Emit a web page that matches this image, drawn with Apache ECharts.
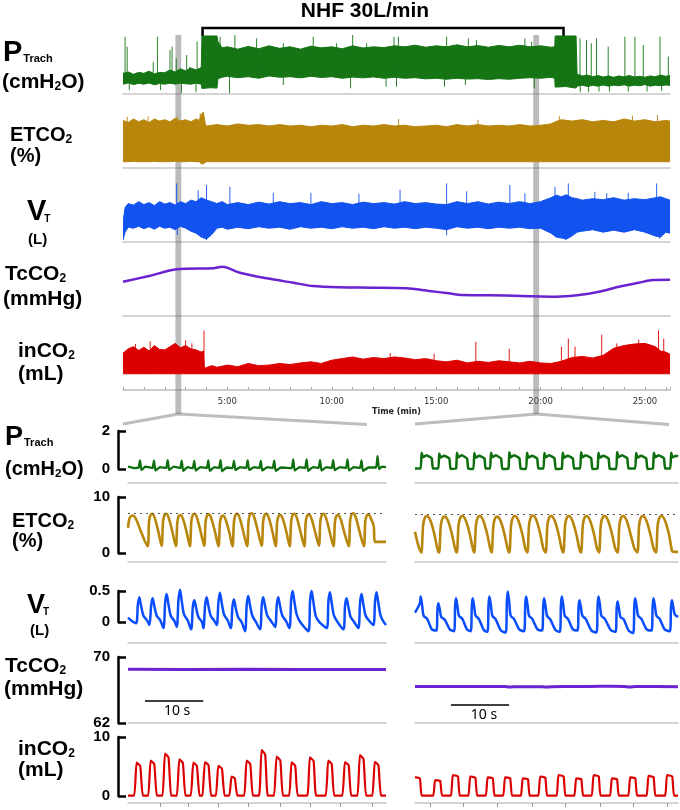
<!DOCTYPE html>
<html><head><meta charset="utf-8">
<script src="https://cdn.jsdelivr.net/npm/echarts@6/dist/echarts.min.js"></script>
<style>html,body{margin:0;padding:0;background:#fff}#c{width:680px;height:810px}</style>
</head><body><div id="c"></div>
<script>
// ---------------- DATA ----------------
// Overview (top) panels, time in minutes. Envelopes: [t, low, high]
const timeLabels = [5, 10, 15, 20, 25];
const TOP_MAX = 26.2;
const bands = [[2.51, 2.79], [19.65, 19.93]];   // zoomed windows (min)
const nhf = [3.81, 21.1];                        // NHF 30 L/min period (min)

const ptEnv = [[0,0.0,0.55],[0.25,0.06,0.62],[0.5,-0.02,0.5],[0.75,0.04,0.6],[1,0.0,0.55],[1.25,0.06,0.66],[1.5,-0.03,0.52],[1.75,0.03,0.6],[2,0.0,0.58],[2.25,0.05,0.72],[2.5,0.0,0.62],[2.75,0.05,0.78],[3,0.02,0.68],[3.25,0.0,0.82],[3.5,0.05,0.72],[3.75,0.0,0.85],
[3.78,-0.22,2.45],[4.2,-0.18,2.45],[4.5,-0.2,2.45],[4.55,0.28,2.15],[4.75,0.35,1.85],
[5,0.4,1.9],[5.5,0.33,1.78],[6,0.38,1.92],[6.5,0.3,1.8],[7,0.42,1.95],[7.5,0.35,1.82],[8,0.38,1.9],[8.5,0.32,1.78],[9,0.4,1.93],[9.5,0.34,1.85],[10,0.38,1.9],[10.5,0.3,1.8],[11,0.36,1.95],[11.5,0.32,1.84],[12,0.37,1.9],[12.5,0.3,1.86],[13,0.35,1.95],[13.5,0.3,1.9],[14,0.33,1.98],[14.5,0.27,1.88],[15,0.3,1.95],[15.5,0.25,1.9],[16,0.3,2.0],[16.5,0.26,1.9],[17,0.28,1.96],[17.5,0.24,1.88],[18,0.28,1.97],[18.5,0.25,1.9],[19,0.3,1.98],[19.5,0.33,1.9],[20,0.3,1.95],[20.5,0.35,1.88],[20.68,0.3,1.9],
[20.7,-0.15,2.45],[21.2,-0.12,2.45],[21.7,-0.2,2.45],[21.75,-0.1,0.5],[22,-0.05,0.42],[22.25,-0.12,0.46],[22.5,-0.06,0.38],[22.75,-0.1,0.44],[23,-0.04,0.36],[23.25,-0.1,0.42],[23.5,-0.05,0.35],[23.75,-0.08,0.42],[24,-0.03,0.37],[24.25,-0.1,0.44],[24.5,-0.05,0.36],[24.75,-0.08,0.4],[25,-0.02,0.35],[25.25,-0.1,0.42],[25.5,-0.05,0.38],[25.75,-0.08,0.46],[26,-0.04,0.4],[26.2,-0.06,0.44]];
const ptSpikes = [[0.1,0.3,2.41],[0.2,0.3,1.9],[1.45,0.3,1.14],[1.65,0.3,2.41],[2.25,0.3,1.74],[2.35,0.3,1.91],[2.55,0.3,1.31],[3.05,0.3,1.48],[3.2,0.3,0.89],[3.55,0.3,2.16],
[0.3,-0.3,0.3],[1.8,-0.3,0.3],[2.8,-0.45,0.3],[3.5,-0.4,0.3],
[4.65,1,2.41],[5.36,1,2.5],[6.4,1,2.33],[7.68,1,2.08],[9.11,1,2.41],[10.23,1,2.08],[11.0,1,2.5],[11.67,1,2.08],[12.98,1,2.41],[13.19,1,2.41],[15.5,1,2.41],[16.54,1,2.33],[16.93,1,2.24],[19.25,1,2.33],[19.57,1,2.16],
[5.1,-0.45,1],[7.68,-0.04,1],[10.9,-0.21,1],[12.6,-0.13,1],[13.1,-0.13,1],[15.4,-0.13,1],[16.4,-0.04,1],[19.7,-0.21,1],
[21.89,0.2,2.33],[22.2,0.2,2.24],[22.43,0.2,2.08],[22.68,0.2,2.33],[23.24,0.2,1.91],[24.04,0.2,2.41],[24.52,0.2,2.41],[24.92,0.2,1.99],[25.72,0.2,2.41],[26.12,0.2,1.4],
[21.9,-0.4,0.2],[22.3,-0.4,0.2],[22.8,-0.38,0.2],[23.3,-0.38,0.2],[24.2,-0.38,0.2],[25.1,-0.38,0.2],[25.8,-0.35,0.2]];

const etEnv = [[0,0.9,6.8],[0.25,0.9,6.5],[0.5,0.95,7.0],[0.75,0.9,6.6],[1,0.9,6.9],[1.25,0.9,6.5],[1.5,0.95,7.0],[1.75,0.9,6.7],[2,0.9,6.9],[2.25,0.9,6.6],[2.5,0.95,7.1],[2.75,0.9,6.7],[3,0.9,6.9],[3.25,0.95,6.6],[3.5,0.9,7.0],[3.65,0.9,6.8],[3.75,0.6,7.6],[3.85,0.6,8.0],[3.95,0.8,6.2],
[4,0.9,6.0],[4.5,0.9,6.2],[5,0.9,6.0],[5.5,0.9,6.3],[6,0.9,6.1],[6.5,0.9,6.2],[7,0.9,6.0],[7.5,0.9,6.2],[8,0.9,6.0],[8.5,0.9,6.1],[9,0.9,5.9],[9.5,0.9,6.1],[10,0.9,6.0],[10.5,0.9,6.2],[11,0.9,5.9],[11.5,0.9,6.1],[12,0.9,6.0],[12.5,0.9,6.2],[13,0.9,6.0],[13.5,0.9,6.1],[14,0.9,5.9],[14.5,0.9,6.0],[15,0.9,6.1],[15.5,0.9,5.9],[16,0.9,6.2],[16.5,0.9,6.0],[17,0.9,6.2],[17.5,0.9,6.0],[18,0.9,6.1],[18.5,0.9,6.0],[19,0.9,6.2],[19.5,0.9,6.0],[20,0.9,6.1],[20.5,0.9,6.3],
[20.7,0.9,6.6],[21,0.9,6.9],[21.5,0.9,6.7],[22,0.9,6.9],[22.5,0.9,6.6],[23,0.9,6.8],[23.5,0.9,6.6],[24,0.9,7.0],[24.5,0.9,6.7],[25,0.9,6.9],[25.5,0.9,6.6],[26,0.9,6.8],[26.2,0.9,6.7]];
const etSpikes = [[0.2,3,7.3],[1.2,3,7.4],[2.6,3,7.4],[3.7,3,7.8],[13.2,3,7.0],[17.0,3,6.9],[20.9,3,7.4],[24.4,3,7.5],[25.6,3,7.6]];

const vtEnv = [[0,-0.36,0.0],[0.1,-0.2,0.3],[0.25,-0.1,0.38],[0.5,-0.12,0.35],[0.75,-0.08,0.42],[1,-0.13,0.36],[1.25,-0.09,0.4],[1.5,-0.14,0.34],[1.75,-0.08,0.42],[2,-0.12,0.37],[2.25,-0.1,0.4],[2.5,-0.15,0.35],[2.75,-0.08,0.42],[3,-0.12,0.38],[3.25,-0.18,0.45],[3.5,-0.22,0.42],[3.75,-0.3,0.5],[4,-0.34,0.45],[4.25,-0.25,0.42],[4.5,-0.12,0.38],[4.75,-0.1,0.42],[5,-0.14,0.36],
[5.5,-0.1,0.4],[6,-0.13,0.36],[6.5,-0.09,0.41],[7,-0.12,0.37],[7.5,-0.1,0.42],[8,-0.14,0.38],[8.5,-0.09,0.4],[9,-0.12,0.36],[9.5,-0.1,0.42],[10,-0.13,0.38],[10.5,-0.09,0.4],[11,-0.12,0.36],[11.5,-0.1,0.41],[12,-0.13,0.38],[12.5,-0.09,0.4],[13,-0.12,0.37],[13.5,-0.1,0.42],[14,-0.13,0.38],[14.5,-0.1,0.4],[15,-0.12,0.37],[15.5,-0.15,0.36],[16,-0.09,0.42],[16.5,-0.12,0.38],[17,-0.1,0.42],[17.5,-0.13,0.37],[18,-0.1,0.41],[18.5,-0.12,0.38],[19,-0.1,0.42],[19.5,-0.13,0.38],[20,-0.12,0.42],
[20.5,-0.22,0.5],[20.75,-0.3,0.55],[21,-0.32,0.52],[21.25,-0.34,0.56],[21.5,-0.28,0.5],[21.75,-0.2,0.48],[22,-0.18,0.45],[22.5,-0.15,0.48],[23,-0.2,0.46],[23.5,-0.16,0.5],[24,-0.2,0.45],[24.5,-0.15,0.48],[25,-0.2,0.46],[25.5,-0.28,0.5],[25.75,-0.3,0.52],[26,-0.2,0.48],[26.2,-0.22,0.45]];
const vtSpikes = [[2.57,0,0.79],[2.6,-0.26,0],[4.0,0,0.76],[4.0,-0.36,0],[5.12,0,0.72],[3.6,0,0.65],[7.2,0,0.6],[9.0,0,0.6],[11.3,0,0.58],[13.27,0,0.66],[15.5,0,0.79],[15.5,-0.26,0],[16.46,0,0.63],[18.53,0,0.76],[19.25,0,0.59],[20.69,0,0.72],[21.33,0,0.79],[21.2,-0.36,0],[22.6,0,0.62],[23.17,0,0.59],[24.2,0,0.6],[25.56,0,0.79],[25.7,-0.33,0]];

const tcTop = [[0,67.6],[1.3,68.12],[2.57,68.66],[4.33,68.75],[4.76,68.88],[5.6,68.37],[6.88,67.9],[8.16,67.52],[9.1,67.24],[10.39,67.13],[11.9,67.1],[13.56,67.05],[14.67,66.82],[15.6,66.63],[16.25,66.48],[17.5,66.46],[19.1,66.4],[20.75,66.34],[21.85,66.48],[22.8,66.76],[23.76,67.18],[24.7,67.52],[25.4,67.75],[26.2,67.77]];

const inEnv = [[0,0,3.8],[0.25,0,4.6],[0.5,0,5.0],[0.75,0,4.3],[1,0,4.9],[1.25,0,4.2],[1.5,0,5.2],[1.75,0,4.5],[2,0,4.4],[2.25,0,5.0],[2.5,0,5.6],[2.75,0,4.8],[3,0,5.2],[3.25,0,4.6],[3.5,0,4.4],[3.75,0,4.0],[3.85,0,4.2],[3.9,0,1.0],[4.25,0,1.5],[4.5,0,1.2],[5,0,1.6],[5.5,0,1.3],[6,0,1.9],[6.5,0,1.5],[7,0,1.6],[7.5,0,1.9],[8,0,1.7],[8.5,0,2.0],[9,0,2.2],[9.5,0,1.9],[10,0,2.5],[10.5,0,2.8],[11,0,3.1],[11.5,0,2.7],[12,0,3.0],[12.5,0,2.8],[13,0,3.1],[13.5,0,2.9],[14,0,2.6],[14.5,0,2.8],[15,0,2.4],[15.5,0,2.2],[16,0,2.5],[16.5,0,2.0],[17,0,2.3],[17.5,0,2.1],[18,0,2.4],[18.5,0,2.2],[19,0,2.0],[19.5,0,2.3],[20,0,2.0],[20.5,0,1.9],[21,0,2.3],[21.5,0,3.0],[22,0,3.2],[22.5,0,2.9],[23,0,3.4],[23.5,0,4.7],[24,0,5.2],[24.5,0,5.5],[25,0,5.6],[25.5,0,5.0],[25.75,0,4.2],[26,0,4.0],[26.2,0,3.6]];
const inSpikes = [[0.6,0,5.5],[1.3,0,6.0],[3.0,0,6.2],[3.3,0,5.6],[3.88,0,8.0],[12.8,0,3.8],[14.9,0,3.7],[16.9,0,5.9],[18.5,0,4.6],[21.0,0,5.0],[21.33,0,6.5],[21.65,0,5.0],[22.93,0,7.2],[23.65,0,5.6],[24.7,0,6.3],[25.65,0,8.0],[25.9,0,6.5]];

// Zoomed (bottom) panels, time in seconds: [t, value]
const ptL = [[0,0.12],[1.0,0.05],[1.8,0.08],[2.05,0.45],[2.3,-0.05],[3.0,0.12],[4.2,0.05],[4.45,0.44],[4.7,-0.08],[5.5,0.1],[6.55,0.05],[6.8,0.46],[7.05,-0.06],[7.8,0.12],[8.95,0.05],[9.2,0.44],[9.45,-0.1],[10.2,0.1],[11.1,0.04],[11.35,0.42],[11.6,-0.08],[12.4,0.1],[13.5,0.05],[13.75,0.45],[14.0,-0.1],[14.8,0.1],[15.6,0.05],[15.85,0.47],[16.1,-0.12],[16.9,0.08],[17.9,0.05],[18.15,0.42],[18.4,-0.05],[19.2,0.1],[20.25,0.05],[20.5,0.45],[20.75,-0.05],[21.6,0.1],[22.5,0.05],[22.75,0.42],[23.0,-0.08],[23.9,0.1],[24.8,0.05],[25.05,0.44],[25.3,-0.1],[26.2,0.08],[28.05,0.05],[28.3,0.5],[28.55,-0.08],[29.4,0.1],[30.35,0.05],[30.6,0.5],[30.85,-0.1],[31.7,0.1],[32.65,0.05],[32.9,0.46],[33.15,-0.08],[34.0,0.1],[34.9,0.05],[35.15,0.46],[35.4,-0.06],[36.3,0.1],[37.35,0.05],[37.6,0.5],[37.85,-0.08],[38.7,0.1],[39.75,0.05],[40.0,0.45],[40.25,-0.1],[41.2,0.08],[42.5,0.08],[42.75,0.68],[43.0,0.0],[43.5,0.12],[44.2,0.1]];
const ptR = [[0,0.02],[0.98,0.02],[1.13,0.85],[1.38,0.62],[1.98,0.72],[2.88,0.56],[3.08,0.02],[4.02,0.02],[4.17,0.82],[4.42,0.6],[5.02,0.7],[5.92,0.55],[6.12,0.0],[7.07,0.02],[7.22,0.85],[7.47,0.62],[8.07,0.72],[8.97,0.55],[9.17,0.02],[10.06,0.0],[10.21,0.84],[10.46,0.6],[11.06,0.7],[11.96,0.56],[12.16,0.02],[12.93,0.02],[13.08,0.86],[13.33,0.63],[13.93,0.72],[14.83,0.55],[15.03,0.0],[16.09,0.02],[16.24,0.88],[16.49,0.62],[17.09,0.72],[17.99,0.56],[18.19,0.02],[19.14,0.0],[19.29,0.85],[19.54,0.6],[20.14,0.7],[21.04,0.55],[21.24,0.02],[22.13,0.02],[22.28,0.84],[22.53,0.62],[23.13,0.72],[24.03,0.56],[24.23,0.0],[25.29,0.02],[25.44,0.86],[25.69,0.6],[26.29,0.7],[27.19,0.55],[27.39,0.02],[28.45,0.02],[28.6,0.88],[28.85,0.62],[29.45,0.72],[30.35,0.56],[30.55,0.0],[31.44,0.02],[31.59,0.85],[31.84,0.6],[32.44,0.7],[33.34,0.55],[33.54,0.02],[34.66,0.0],[34.81,0.9],[35.06,0.62],[35.66,0.72],[36.56,0.56],[36.76,0.02],[37.93,0.02],[38.08,0.84],[38.33,0.6],[38.93,0.7],[39.83,0.55],[40.03,0.0],[40.98,0.02],[41.13,0.86],[41.38,0.62],[41.98,0.72],[42.88,0.56],[43.08,0.02],[43.97,0.02],[44.12,0.85],[44.37,0.62],[45.0,0.7],[45.3,0.66]];

const etL = [[0,4.5],[0.3,6.3],[0.8,6.7],[1.4,6.0],[2.3,3.6],[3.35,1.2],
[3.6,5.6],[3.85,6.8],[4.15,7.0],[4.6,6.2],[5.2,3.8],[5.75,1.3],
[6.0,5.6],[6.25,6.8],[6.55,7.0],[7.0,6.2],[7.6,3.8],[8.2,1.2],
[8.45,5.5],[8.7,6.6],[9.0,6.8],[9.45,6.0],[10.05,3.7],[10.6,1.2],
[10.85,5.6],[11.1,6.8],[11.4,7.0],[11.85,6.2],[12.45,3.8],[13.05,1.3],
[13.3,5.6],[13.55,6.7],[13.85,6.9],[14.3,6.1],[14.9,3.8],[15.5,1.2],
[15.75,5.4],[16.0,6.5],[16.3,6.7],[16.75,5.9],[17.35,3.7],[17.9,1.2],
[18.15,5.6],[18.4,6.8],[18.7,7.0],[19.15,6.2],[19.75,3.8],[20.4,1.2],
[20.65,5.7],[20.9,6.9],[21.2,7.1],[21.65,6.3],[22.25,3.9],[22.9,1.3],
[23.15,5.6],[23.4,6.8],[23.7,7.0],[24.15,6.2],[24.75,3.8],[25.3,1.2],
[25.55,5.5],[25.8,6.6],[26.1,6.8],[26.55,6.0],[27.15,3.7],[27.7,1.2],
[27.95,5.6],[28.2,6.8],[28.5,7.0],[28.95,6.2],[29.55,3.8],[30.2,1.2],
[30.45,5.6],[30.7,6.7],[31.0,6.9],[31.45,6.1],[32.05,3.8],[32.7,1.3],
[32.95,5.6],[33.2,6.8],[33.5,7.0],[33.95,6.2],[34.55,3.8],[35.2,1.2],
[35.45,5.5],[35.7,6.6],[36.0,6.8],[36.45,6.0],[37.05,3.7],[37.8,1.2],
[38.05,5.7],[38.3,6.9],[38.6,7.1],[39.05,6.3],[39.65,3.9],[40.4,1.2],
[40.65,5.6],[40.9,6.7],[41.2,6.9],[41.65,6.1],[42.1,4.8],[42.3,2.0],[44.2,2.0]];
const etR = [[0,3.8],[0.5,1.6],[0.9,0.4],
[1.1,0.1],[1.4,5.0],[1.7,6.3],[2.05,6.6],[2.65,5.8],[3.35,3.3],[3.85,0.8],
[4.15,0.1],[4.45,5.0],[4.75,6.2],[5.1,6.5],[5.7,5.7],[6.4,3.2],[6.9,0.8],
[7.2,0.1],[7.5,5.0],[7.8,6.3],[8.15,6.6],[8.75,5.8],[9.45,3.3],[9.95,0.8],
[10.2,0.1],[10.5,5.0],[10.8,6.3],[11.15,6.6],[11.75,5.8],[12.45,3.3],[12.95,0.8],
[13.2,0.1],[13.5,4.9],[13.8,6.2],[14.15,6.5],[14.75,5.7],[15.45,3.2],[15.95,0.8],
[16.25,0.1],[16.55,5.0],[16.85,6.3],[17.2,6.6],[17.8,5.8],[18.5,3.3],[19.0,0.8],
[19.35,0.1],[19.65,5.1],[19.95,6.4],[20.3,6.7],[20.9,5.9],[21.6,3.3],[22.1,0.8],
[22.5,0.1],[22.8,5.0],[23.1,6.3],[23.45,6.6],[24.05,5.8],[24.75,3.3],[25.25,0.8],
[25.55,0.1],[25.85,5.0],[26.15,6.3],[26.5,6.6],[27.1,5.8],[27.8,3.3],[28.3,0.8],
[28.6,0.1],[28.9,5.0],[29.2,6.3],[29.55,6.6],[30.15,5.8],[30.85,3.3],[31.35,0.8],
[31.7,0.1],[32.0,5.0],[32.3,6.3],[32.65,6.6],[33.25,5.8],[33.95,3.3],[34.5,0.8],
[34.9,0.1],[35.2,5.0],[35.5,6.3],[35.85,6.6],[36.45,5.8],[37.15,3.3],[37.8,0.8],
[38.3,0.1],[38.6,5.0],[38.9,6.3],[39.25,6.6],[39.85,5.8],[40.55,3.3],[41.1,0.8],
[41.5,0.1],[41.8,5.0],[42.1,6.3],[42.45,6.6],[43.05,5.8],[43.75,3.3],[44.25,0.4],[44.5,0.2],[45.3,0.2]];
const etDotL = 7.1, etDotR = 6.9;

const vtL = [[0,0.07],[0.6,0.02],
[1.39,-0.02],[1.69,0.28],[1.94,0.40],[2.24,0.26],[2.64,0.1],[3.24,0.03],
[3.67,-0.05],[3.97,0.27],[4.22,0.38],[4.52,0.25],[4.92,0.1],[5.52,0.03],
[6.07,-0.1],[6.37,0.32],[6.62,0.45],[6.92,0.29],[7.32,0.1],[7.92,0.02],
[8.35,-0.08],[8.65,0.36],[8.9,0.52],[9.2,0.34],[9.6,0.12],[10.2,0.03],
[10.81,-0.12],[11.11,0.25],[11.36,0.35],[11.66,0.23],[12.06,0.08],[12.66,0.0],
[12.92,-0.1],[13.22,0.28],[13.47,0.40],[13.77,0.26],[14.17,0.1],[14.77,0.02],
[15.2,-0.05],[15.5,0.33],[15.75,0.47],[16.05,0.31],[16.45,0.12],[17.05,0.03],
[17.6,-0.1],[17.9,0.25],[18.15,0.36],[18.45,0.23],[18.85,0.08],[19.45,0.0],
[20.05,-0.15],[20.35,0.29],[20.6,0.42],[20.9,0.27],[21.3,0.1],[21.9,0.0],
[22.62,-0.12],[22.92,0.28],[23.17,0.40],[23.47,0.26],[23.87,0.1],[24.47,0.02],
[25.19,-0.08],[25.49,0.28],[25.74,0.40],[26.04,0.26],[26.44,0.1],[27.04,0.02],
[27.65,-0.1],[27.95,0.35],[28.2,0.50],[28.5,0.33],[28.9,0.12],[29.5,0.0],
[30.9,-0.15],[31.2,0.35],[31.45,0.50],[31.75,0.33],[32.15,0.1],[32.75,0.0],
[34.04,-0.1],[34.34,0.34],[34.59,0.48],[34.89,0.31],[35.29,0.1],[35.89,0.0],
[36.89,-0.12],[37.19,0.27],[37.44,0.38],[37.74,0.25],[38.14,0.08],[38.74,0.0],
[39.46,-0.1],[39.76,0.32],[40.01,0.45],[40.31,0.29],[40.71,0.1],[41.31,0.02],
[42.03,-0.05],[42.33,0.34],[42.58,0.48],[42.88,0.31],[43.28,0.1],[43.8,0.0],[44.2,-0.05]];
const vtR = [[0,0.15],[0.83,0.3],[0.98,0.41],[1.23,0.27],[1.48,0.1],[2.1,0.05],[2.9,-0.12],
[3.67,-0.14],[3.87,0.21],[4.02,0.30],[4.27,0.2],[4.52,0.08],[5.1,0.04],[6.0,-0.12],
[6.72,-0.15],[6.92,0.27],[7.07,0.38],[7.32,0.25],[7.57,0.1],[8.15,0.05],[8.95,-0.12],
[9.59,-0.15],[9.79,0.27],[9.94,0.38],[10.19,0.25],[10.44,0.1],[11.0,0.05],[11.85,-0.13],
[12.47,-0.16],[12.67,0.29],[12.82,0.41],[13.07,0.27],[13.32,0.1],[13.9,0.04],[14.8,-0.14],
[15.63,-0.17],[15.83,0.34],[15.98,0.49],[16.23,0.32],[16.48,0.1],[17.05,0.05],[17.95,-0.12],
[18.79,-0.15],[18.99,0.29],[19.14,0.41],[19.39,0.27],[19.64,0.1],[20.2,0.05],[21.1,-0.12],
[21.89,-0.14],[22.09,0.27],[22.24,0.38],[22.49,0.25],[22.74,0.1],[23.3,0.04],[24.2,-0.13],
[24.94,-0.16],[25.14,0.29],[25.29,0.41],[25.54,0.27],[25.79,0.1],[26.35,0.05],[27.2,-0.12],
[27.98,-0.14],[28.18,0.25],[28.33,0.35],[28.58,0.23],[28.83,0.1],[29.4,0.05],[30.4,-0.14],
[31.26,-0.17],[31.46,0.29],[31.61,0.41],[31.86,0.27],[32.11,0.1],[32.7,0.05],[33.7,-0.13],
[34.54,-0.16],[34.74,0.23],[34.89,0.33],[35.14,0.21],[35.39,0.08],[35.95,0.04],[36.8,-0.14],
[37.58,-0.18],[37.78,0.27],[37.93,0.38],[38.18,0.25],[38.43,0.1],[39.0,0.05],[39.9,-0.12],
[40.74,-0.14],[40.94,0.27],[41.09,0.38],[41.34,0.25],[41.59,0.1],[42.15,0.05],[43.0,-0.12],
[43.9,-0.15],[44.1,0.25],[44.25,0.35],[44.5,0.23],[44.75,0.12],[45.3,0.08]];

const tcL = [[0,68.52],[10,68.5],[20,68.52],[30,68.5],[44.2,68.5]];
const tcR = [[0,66.42],[15.5,66.42],[16.2,66.35],[17,66.38],[22,66.4],[22.5,66.35],[23.5,66.4],[28,66.42],[32,66.45],[36,66.42],[37,66.36],[38,66.42],[45.3,66.4]];
const scaleBarL = [[2.9,64.67],[12.9,64.67]];   // 10 s
const scaleBarR = [[6.2,64.18],[16.2,64.18]];   // 10 s

const inL = [[0,0.05],[1.05,0.05],[1.48,5.65],[2.1,5.1],[2.55,0.05],[3.45,0.05],[3.88,6.0],[4.5,5.4],[4.95,0.05],[5.9,0.05],[6.34,7.2],[6.95,6.5],[7.4,0.05],[8.35,0.05],[8.79,6.2],[9.4,5.6],[9.85,0.05],[10.75,0.05],[11.19,5.65],[11.8,5.1],[12.25,0.05],[12.75,0.05],[13.18,5.75],[13.8,5.2],[14.25,0.05],[15.05,0.05],[15.47,5.1],[16.1,4.6],[16.55,0.05],[17.35,0.05],[17.75,3.3],[18.3,3.0],[18.75,0.05],[19.9,0.05],[20.32,6.0],[20.95,5.4],[21.4,0.05],[22.45,0.05],[22.89,7.8],[23.5,7.0],[23.95,0.05],[25.0,0.05],[25.46,6.7],[26.1,6.0],[26.55,0.05],[27.6,0.05],[28.02,5.7],[28.65,5.1],[29.1,0.05],[30.7,0.05],[31.16,6.55],[31.8,5.9],[32.25,0.05],[33.85,0.05],[34.3,6.0],[34.9,5.4],[35.35,0.05],[36.7,0.05],[37.16,5.75],[37.8,5.2],[38.25,0.05],[39.3,0.05],[39.73,6.95],[40.35,6.25],[40.8,0.05],[41.85,0.05],[42.29,5.8],[42.9,5.2],[43.35,0.05],[44.2,0.05]];
const inR = [[0,3.2],[0.85,3.0],[1.15,0.05],[3.15,0.05],[3.45,2.7],[4.35,2.55],[4.65,0.05],[6.2,0.05],[6.5,3.55],[7.4,3.35],[7.7,0.05],[9.2,0.05],[9.5,3.3],[10.4,3.1],[10.7,0.05],[12.2,0.05],[12.5,3.15],[13.4,3.0],[13.7,0.05],[15.2,0.05],[15.5,3.15],[16.4,3.0],[16.7,0.05],[18.25,0.05],[18.55,3.0],[19.45,2.85],[19.75,0.05],[21.25,0.05],[21.55,3.3],[22.45,3.1],[22.75,0.05],[24.4,0.05],[24.7,3.55],[25.6,3.35],[25.9,0.05],[27.45,0.05],[27.75,3.0],[28.65,2.85],[28.95,0.05],[30.45,0.05],[30.75,3.55],[31.65,3.35],[31.95,0.05],[33.6,0.05],[33.9,3.0],[34.8,2.85],[35.1,0.05],[36.75,0.05],[37.05,3.15],[37.95,3.0],[38.25,0.05],[39.9,0.05],[40.2,3.4],[41.1,3.2],[41.4,0.05],[43.1,0.05],[43.4,3.55],[44.3,3.35],[44.6,0.05],[45.3,0.05]];

const tickL = [5.48,10.27,15.41,20.55,26.0,31.16,36.3,41.78];
const tickR = [2.59,8.28,14.14,20.17,25.86,31.9,37.59,43.45];
const bracketTicks = [[0,2],[0,10],[0,0.5],[62,70],[0,10]];
const L_MAX = 44.2, R_MAX = 45.3;

// ---------------- STYLE / LAYOUT ----------------
const GREEN = '#157414', GOLD = '#b8860b', BLUE = '#1252ee', PURPLE = '#6b22d0', RED = '#dc0000';
const GREEN_B = '#0d6e0d', BLUE_B = '#0a4dfc';
const FONT = '"Liberation Sans", Arial, sans-serif';

const chart = echarts.init(document.getElementById('c'));
const grids = [], xAxes = [], yAxes = [], series = [];
function addGrid(g, x, y) {
  grids.push(Object.assign({containLabel:false}, g));
  const i = grids.length - 1;
  xAxes.push(Object.assign({gridIndex:i}, x));
  yAxes.push(Object.assign({gridIndex:i}, y));
  return i;
}
const hiddenY = (min, max) => ({type:'value', min, max, show:false});
const hiddenX = (min, max) => ({type:'value', min, max, show:false});
const sepX = (min, max, extra) => Object.assign({type:'value', min, max,
  axisLine:{show:true, onZero:false, lineStyle:{color:'#c6c6c6', width:1.5}},
  axisTick:{show:false}, axisLabel:{show:false}, splitLine:{show:false}}, extra || {});

// band between low and high envelope, drawn through the axis scales
function envSeries(gi, env, color) {
  return {type:'custom', xAxisIndex:gi, yAxisIndex:gi, silent:true, clip:true,
    data:[[env[0][0], env[0][1]]],
    renderItem: (params, api) => {
      const top = env.map(d => api.coord([d[0], d[2]]));
      const bot = env.map(d => api.coord([d[0], d[1]])).reverse();
      return {type:'polygon', shape:{points: top.concat(bot)},
        style:{fill:color, stroke:color, lineWidth:1}};
    }};
}
function spikeSeries(gi, spikes, color) {
  const data = [];
  spikes.forEach(s => { data.push([s[0], s[1]], [s[0], s[2]], [s[0], '-']); });
  return {type:'line', xAxisIndex:gi, yAxisIndex:gi, symbol:'none', connectNulls:false,
    data, lineStyle:{color, width:1, opacity:0.9}, silent:true};
}
function trace(gi, data, color, width, extra) {
  return Object.assign({type:'line', xAxisIndex:gi, yAxisIndex:gi, symbol:'none', data,
    smooth:0.2, lineStyle:{color, width}, silent:true}, extra || {});
}

// top overview grids
const topRows = [
  {top:35, h:59, min:-0.5, max:2.5},
  {top:105, h:63, min:0, max:9},
  {top:178, h:64, min:-0.4, max:0.9},
  {top:250, h:66, min:64.7, max:70.3},
  {top:325, h:65, min:-3, max:9}];
const topIdx = topRows.map((r, k) => {
  let x;
  if (k < 4) x = sepX(0, TOP_MAX);
  else x = {type:'value', min:0, max:TOP_MAX, interval:1,
    axisLine:{show:true, onZero:false, lineStyle:{color:'#bdbdbd', width:1.5}},
    axisTick:{show:true, inside:true, length:3, lineStyle:{color:'#aaa'}},
    axisLabel:{show:true, interval:0, margin:7, fontSize:8.5, color:'#333', fontFamily:'"DejaVu Sans", Verdana, sans-serif',
      formatter: v => timeLabels.indexOf(Math.round(v * 1000) / 1000) >= 0 ? v + ':00' : ''},
    splitLine:{show:false},
    name:'Time (min)', nameLocation:'middle', nameGap:18,
    nameTextStyle:{fontSize:8, fontWeight:'bold', color:'#222', fontFamily:'"DejaVu Sans", Verdana, sans-serif'}};
  return addGrid({left:123, width:547, top:r.top, height:r.h}, x, hiddenY(r.min, r.max));
});
series.push(envSeries(topIdx[0], ptEnv, GREEN), spikeSeries(topIdx[0], ptSpikes, GREEN));
series.push(envSeries(topIdx[1], etEnv, GOLD), spikeSeries(topIdx[1], etSpikes, GOLD));
series.push(envSeries(topIdx[2], vtEnv, BLUE), spikeSeries(topIdx[2], vtSpikes, BLUE));
series.push(trace(topIdx[3], tcTop, PURPLE, 2.5, {smooth:0.3}));
series.push(envSeries(topIdx[4], inEnv, RED), spikeSeries(topIdx[4], inSpikes, RED));

// overlay grid for zoom window bands
const ovIdx = addGrid({left:123, width:547, top:35, height:379}, hiddenX(0, TOP_MAX), hiddenY(0, 1));
series.push({type:'line', xAxisIndex:ovIdx, yAxisIndex:ovIdx, data:[[0,-1]], symbol:'none',
  lineStyle:{width:0}, z:10, silent:true,
  markArea:{silent:true, itemStyle:{color:'rgba(105,105,105,0.45)'},
    data: bands.map(b => [{xAxis:b[0]}, {xAxis:b[1]}])}});

// bottom zoomed grids
const botRows = [
  {top:425.3, h:57, min:-0.7, max:2.3},
  {top:490, h:72, min:-1.6, max:11.25},
  {top:575, h:68, min:-0.34, max:0.757},
  {top:650, h:73, min:62, max:70.85},
  {top:730, h:73, min:-1.19, max:11.19}];
function bottomX(max, ticks, last) {
  if (!last) return sepX(0, max);
  return sepX(0, max, {axisTick:{show:true, customValues:ticks, length:4, lineStyle:{color:'#9a9a9a'}}});
}
const leftIdx = botRows.map((r, k) => addGrid({left:128, width:258, top:r.top, height:r.h},
  bottomX(L_MAX, tickL, k === 4), hiddenY(r.min, r.max)));
const rightIdx = botRows.map((r, k) => addGrid({left:415, width:263, top:r.top, height:r.h},
  bottomX(R_MAX, tickR, k === 4), hiddenY(r.min, r.max)));

const dotted = v => ({silent:true, symbol:'none', label:{show:false},
  lineStyle:{type:[2,4], color:'#555', width:1.2}, data:[{yAxis:v}]});
series.push(trace(leftIdx[0], ptL, GREEN_B, 2.3, {smooth:0.1}));
series.push(trace(rightIdx[0], ptR, GREEN_B, 2.5, {smooth:0.1}));
series.push(trace(leftIdx[1], etL, GOLD, 2.6, {smooth:0.3, markLine:dotted(etDotL)}));
series.push(trace(rightIdx[1], etR, GOLD, 2.6, {smooth:0.3, markLine:dotted(etDotR)}));
series.push(trace(leftIdx[2], vtL, BLUE_B, 2.5, {smooth:0.3}));
series.push(trace(rightIdx[2], vtR, BLUE_B, 2.5, {smooth:0.3}));
series.push(trace(leftIdx[3], tcL, PURPLE, 3, {smooth:false}));
series.push(trace(rightIdx[3], tcR, PURPLE, 3));
series.push(trace(leftIdx[3], scaleBarL, '#000', 1.5, {smooth:false}));
series.push(trace(rightIdx[3], scaleBarR, '#000', 1.5, {smooth:false}));
series.push(trace(leftIdx[4], inL, RED, 2.2, {smooth:0.15}));
series.push(trace(rightIdx[4], inR, RED, 2.2, {smooth:0.1}));

// scale brackets (left column)
const brRows = [{top:431,h:38},{top:497,h:56},{top:591,h:31},{top:657,h:66},{top:737,h:59}];
brRows.forEach((r, k) => {
  const t = bracketTicks[k];
  addGrid({left:118, width:8, top:r.top, height:r.h}, hiddenX(0, 1), {type:'value', min:t[0], max:t[1], position:'left',
    axisLine:{show:true, lineStyle:{color:'#000', width:2.5}},
    axisTick:{show:true, inside:true, length:8, customValues:t, lineStyle:{color:'#000', width:2.5}},
    axisLabel:{show:true, customValues:t, showMinLabel:true, showMaxLabel:true, margin:8,
      color:'#000', fontSize:15, fontWeight:'bold', fontFamily:FONT, formatter: v => String(v)},
    splitLine:{show:false}});
});

chart.setOption({animation:false, backgroundColor:'#fff', grid:grids, xAxis:xAxes, yAxis:yAxes, series});

// ---------------- ANNOTATIONS ----------------
const ctx = document.createElement('canvas').getContext('2d');
function tw(t, s) { ctx.font = 'bold ' + s + 'px ' + FONT; return ctx.measureText(t).width; }
const labelDefs = [
  {x:3, y:52.5, parts:[['P',29,0,0],['Trach',11,6,1]]},
  {x:2, y:82, parts:[['(cmH',21,0,0],['2',12,4.5,0],['O)',21,0,0]]},
  {x:10, y:135, parts:[['ETCO',20,0,0],['2',12,4.5,0]]},
  {x:10, y:156, parts:[['(%)',20,0,0]]},
  {x:27, y:212, parts:[['V',29,0,0],['T',10,7,-2]]},
  {x:28, y:240, parts:[['(L)',15,0,0]]},
  {x:5, y:274.5, parts:[['TcCO',21,0,0],['2',12,4.5,0]]},
  {x:3, y:299, parts:[['(mmHg)',21,0,0]]},
  {x:18, y:351.5, parts:[['inCO',21,0,0],['2',12,4.5,0]]},
  {x:18, y:374, parts:[['(mL)',21,0,0]]},
  {x:5, y:437.5, parts:[['P',27,0,0],['Trach',11,5.5,1]]},
  {x:5, y:469, parts:[['(cmH',20,0,0],['2',11.5,4.5,0],['O)',20,0,0]]},
  {x:12, y:521.5, parts:[['ETCO',20,0,0],['2',12,4.5,0]]},
  {x:12, y:541, parts:[['(%)',20,0,0]]},
  {x:27, y:606, parts:[['V',27,0,0],['T',10,6,-2]]},
  {x:30, y:631, parts:[['(L)',15,0,0]]},
  {x:5, y:666.5, parts:[['TcCO',21,0,0],['2',12,4.5,0]]},
  {x:4, y:689, parts:[['(mmHg)',21,0,0]]},
  {x:18, y:749, parts:[['inCO',21,0,0],['2',12,4.5,0]]},
  {x:18, y:770, parts:[['(mL)',21,0,0]]}];
const graphic = [];
labelDefs.forEach(L => {
  let x = L.x;
  L.parts.forEach(p => {
    x += p[3];
    graphic.push({type:'text', x:x, y:L.y + p[2], silent:true, style:{text:p[0], font:'bold ' + p[1] + 'px ' + FONT,
      fill:'#000', textAlign:'left', textVerticalAlign:'middle', align:'left', verticalAlign:'middle'}});
    x += tw(p[0], p[1]);
  });
});
const px = (gi, pt) => chart.convertToPixel({gridIndex:gi}, pt);
// NHF bracket + title
const bx1 = px(topIdx[0], [nhf[0], 0])[0], bx2 = px(topIdx[0], [nhf[1], 0])[0];
graphic.push({type:'polyline', silent:true, shape:{points:[[bx1,36],[bx1,28],[bx2,28],[bx2,36]]},
  style:{stroke:'#000', lineWidth:2.5, fill:null}});
graphic.push({type:'text', x:365, y:11, silent:true, style:{text:'NHF 30L/min', font:'bold 21px ' + FONT, fill:'#000',
  textAlign:'center', textVerticalAlign:'middle', align:'center', verticalAlign:'middle'}});
// zoom connector lines
const c1 = px(topIdx[0], [(bands[0][0] + bands[0][1]) / 2, 0])[0];
const c2 = px(topIdx[0], [(bands[1][0] + bands[1][1]) / 2, 0])[0];
[[c1, 123, 367], [c2, 415, 669]].forEach(z => {
  graphic.push({type:'polyline', silent:true, shape:{points:[[z[1],424],[z[0],414],[z[2],424.5]]},
    style:{stroke:'#bdbdbd', lineWidth:3, fill:null}});
});
// "10 s" labels under scale bars
[[leftIdx[3], scaleBarL, 3, 10], [rightIdx[3], scaleBarR, 4, 10]].forEach(s => {
  const a = px(s[0], s[1][0]), b = px(s[0], s[1][1]);
  graphic.push({type:'text', x:(a[0] + b[0]) / 2 + s[2], y:a[1] + s[3], silent:true,
    style:{text:'10 s', font:'14px "Noto Sans", sans-serif', fill:'#000', textAlign:'center',
      textVerticalAlign:'middle', align:'center', verticalAlign:'middle'}});
});
chart.setOption({graphic});
</script></body></html>
